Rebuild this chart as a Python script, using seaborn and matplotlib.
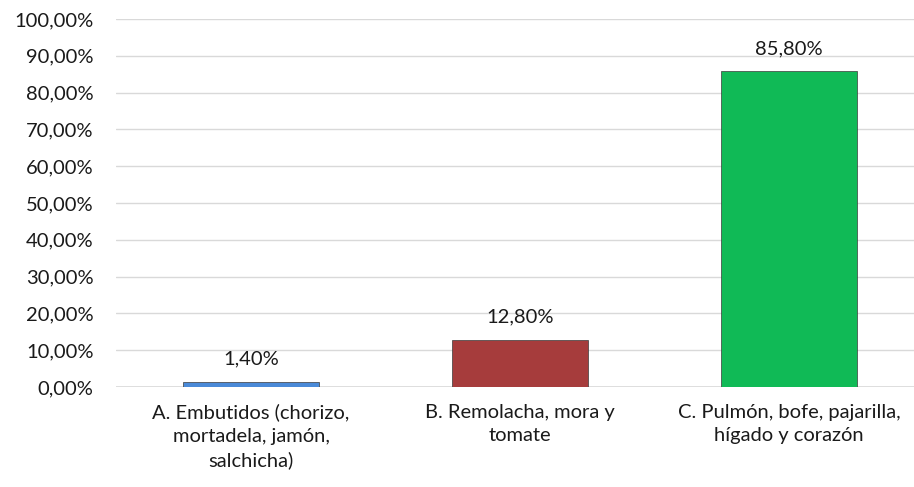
import matplotlib
matplotlib.use("Agg")
import matplotlib.pyplot as plt
import seaborn as sns
import pandas as pd

categories = ["A. Embutidos (chorizo,\nmortadela, jamón,\nsalchicha)",
              "B. Remolacha, mora y\ntomate",
              "C. Pulmón, bofe, pajarilla,\nhígado y corazón"]
values = [1.40, 12.80, 85.80]
colors = ["#4A8AD8", "#A63C3C", "#10BA56"]
yticks = [0, 10, 20, 30, 40, 50, 60, 70, 80, 90, 100]

sns.set_theme(style="white")
plt.rcParams['font.family'] = ['Lato', 'DejaVu Sans']

df = pd.DataFrame({"cat": categories, "val": values})

fig = plt.figure(figsize=(9.14, 4.87), dpi=100)
ax = fig.add_axes([116.5/914, 1-387/487, (923.5-116.5)/914, (387-19)/487])

sns.barplot(data=df, x="cat", y="val", hue="cat", palette=colors, legend=False,
            saturation=1, width=0.506, ax=ax, edgecolor="#3a3a3a", linewidth=0.5, zorder=3)

ax.set_ylim(0, 100)
ax.set_xlim(-0.5, 2.5)
ax.set_yticks(yticks)
ax.set_yticklabels([f"{t:.2f}".replace(".", ",") + "%" for t in yticks], fontsize=14.5, color="#1a1a1a")
ax.tick_params(axis="x", labelsize=14.5, colors="#1a1a1a", pad=12, length=0)
ax.tick_params(axis="y", pad=16.5, length=0)
plt.setp(ax.get_xticklabels(), linespacing=1.45)
ax.set_xlabel("")
ax.set_ylabel("")
ax.grid(axis="y", color="#d9d9d9", linewidth=1, zorder=0)
for s in ax.spines.values():
    s.set_visible(False)
ax.axhline(0, color="#d9d9d9", linewidth=1.2, zorder=1)

for i, v in enumerate(values):
    ax.text(i, v + 3.9, f"{v:.2f}".replace(".", ",") + "%", ha="center", va="bottom",
            fontsize=14.5, color="#1a1a1a")

fig.savefig("out.png", dpi=100)
